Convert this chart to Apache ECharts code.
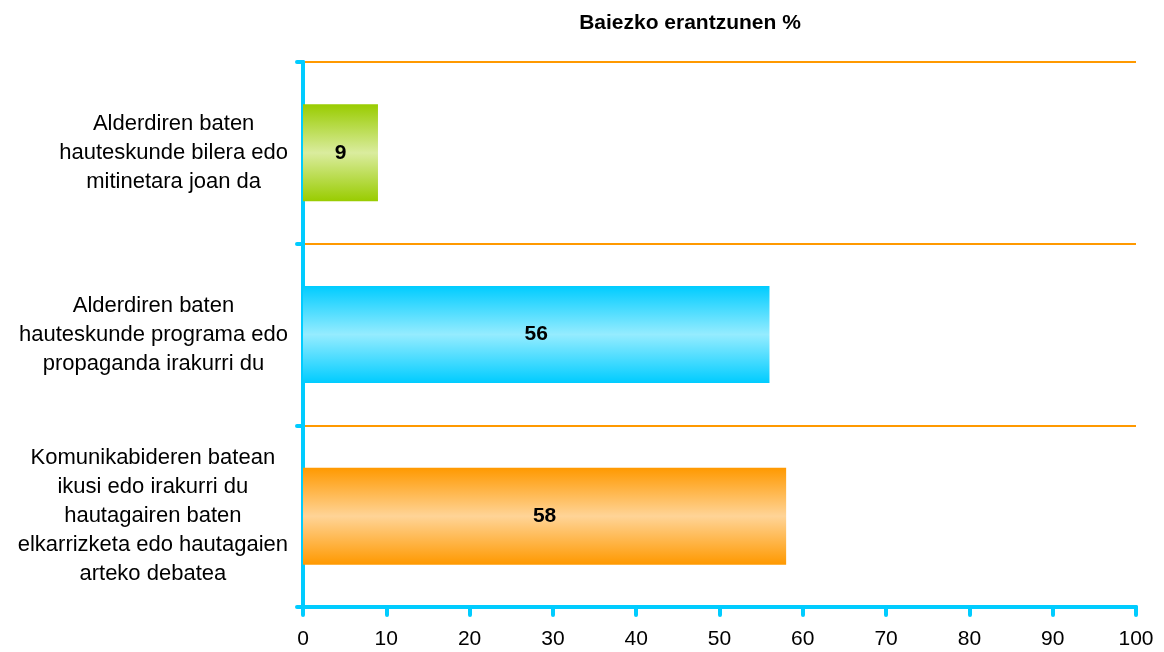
<!DOCTYPE html>
<html>
<head>
<meta charset="utf-8">
<script src="https://cdn.jsdelivr.net/npm/echarts@6/dist/echarts.min.js"></script>
<style>html,body{margin:0;padding:0;background:#fff}#c{width:1164px;height:652px}</style>
</head>
<body>
<div id="c"></div>
<script>
const titleText = 'Baiezko erantzunen %';
const categories = [
  'Alderdiren baten\nhauteskunde bilera edo\nmitinetara joan da',
  'Alderdiren baten\nhauteskunde programa edo\npropaganda irakurri du',
  'Komunikabideren batean\nikusi edo irakurri du\nhautagairen baten\nelkarrizketa edo hautagaien\narteko debatea'
];
const values = [9, 56, 58];
const barColors = [
  ['#99CC00', '#DAEC9E'],
  ['#00CCFF', '#95ECFF'],
  ['#FF9900', '#FFD497']
];
const xTicks = [0, 10, 20, 30, 40, 50, 60, 70, 80, 90, 100];

function grad(c) {
  return new echarts.graphic.LinearGradient(0, 0, 0, 1, [
    {offset: 0, color: c[0]},
    {offset: 0.5, color: c[1]},
    {offset: 1, color: c[0]}
  ]);
}

const chart = echarts.init(document.getElementById('c'));
const font = 'Liberation Sans, Arial, sans-serif';
chart.setOption({
  animation: false,
  title: {
    text: titleText,
    left: 685, top: 8, textAlign: 'center',
    textStyle: {fontFamily: font, fontSize: 21, fontWeight: 'bold', color: '#000'}
  },
  grid: {left: 303, right: 28, top: 62, bottom: 45, containLabel: false},
  xAxis: {
    type: 'value', min: xTicks[0], max: xTicks[xTicks.length - 1], interval: 10,
    axisLine: {show: true, lineStyle: {color: '#00CCFF', width: 4, cap: 'round'}},
    axisTick: {show: true, length: 8, lineStyle: {color: '#00CCFF', width: 4, cap: 'round'}},
    axisLabel: {fontFamily: font, fontSize: 21, color: '#000', margin: 22},
    splitLine: {show: false}
  },
  yAxis: {
    type: 'category', data: categories, inverse: true,
    axisLine: {show: true, lineStyle: {color: '#00CCFF', width: 4, cap: 'round'}},
    axisTick: {show: true, length: 6, lineStyle: {color: '#00CCFF', width: 4, cap: 'round'}},
    axisLabel: {
      fontFamily: font, fontSize: 22, color: '#000', margin: 15,
      formatter: function (v) { return v.split('\n').map(l => '{a|' + l + '}').join('\n'); },
      rich: {a: {fontFamily: font, fontSize: 22, color: '#000', align: 'center', lineHeight: 29}}
    },
    splitLine: {show: true, lineStyle: {color: '#FF9900', width: 2}}
  },
  series: [{
    type: 'bar',
    barWidth: 97,
    data: values.map((v, i) => ({value: v, itemStyle: {color: grad(barColors[i])}})),
    label: {show: true, position: 'inside', fontFamily: font, fontSize: 21, fontWeight: 'bold', color: '#000'}
  }]
});
</script>
</body>
</html>
